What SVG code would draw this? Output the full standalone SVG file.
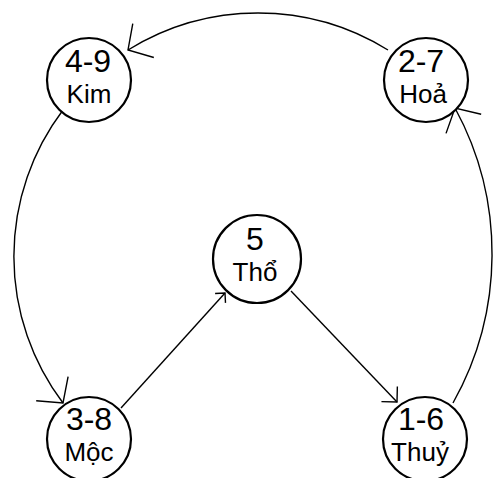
<svg xmlns="http://www.w3.org/2000/svg" width="494" height="478" viewBox="0 0 494 478">
<style>
.node circle{fill:#fff;stroke:#000;stroke-width:2.2}
.num{font-family:"Liberation Sans",Arial,sans-serif;font-size:32px;text-anchor:middle;fill:#000}
.name{font-family:"Liberation Sans",Arial,sans-serif;font-size:26px;text-anchor:middle;fill:#000}
.edge{fill:none;stroke:#000;stroke-width:1.4}
</style>
<defs>
<marker id="big" markerUnits="userSpaceOnUse" viewBox="-30 -30 60 60" markerWidth="60" markerHeight="60" refX="0" refY="0" orient="auto" overflow="visible">
<path d="M-18,-20 L0,0 L-18,20" fill="none" stroke="#000" stroke-width="1.4"/>
</marker>
<marker id="mid" markerUnits="userSpaceOnUse" viewBox="-30 -30 60 60" markerWidth="60" markerHeight="60" refX="0" refY="0" orient="auto" overflow="visible">
<path d="M-11,-11 L0,0 L-11,11" fill="none" stroke="#000" stroke-width="1.4"/>
</marker>
<marker id="small" markerUnits="userSpaceOnUse" viewBox="-30 -30 60 60" markerWidth="60" markerHeight="60" refX="0" refY="0" orient="auto" overflow="visible">
<path d="M-7,-7 L0,0 L-7,7" fill="none" stroke="#000" stroke-width="1.4"/>
</marker>
</defs>
<g id="connectors">
<path class="edge" d="M388,50 A247,247 0 0 0 128,50" marker-end="url(#big)"/>
<path class="edge" d="M63,110 A243,243 0 0 0 63,403" marker-end="url(#big)"/>
<path class="edge" d="M453,403 A305,305 0 0 0 455,108" marker-end="url(#big)"/>
<path class="edge" d="M121,408 L225,293" marker-end="url(#small)"/>
<path class="edge" d="M291,291 L397,402" marker-end="url(#mid)"/>
</g>
<g id="kim" class="node">
<circle cx="89" cy="80" r="42"/>
<text class="num" x="88" y="72">4-9</text>
<text class="name" x="89" y="103">Kim</text>
</g>
<g id="hoa" class="node">
<circle cx="426" cy="80" r="42"/>
<text class="num" x="421" y="72">2-7</text>
<text class="name" x="423" y="103">Hoả</text>
</g>
<g id="tho" class="node">
<circle cx="257" cy="259" r="44"/>
<text class="num" x="255" y="250">5</text>
<text class="name" x="255" y="281">Thổ</text>
</g>
<g id="moc" class="node">
<circle cx="89" cy="439" r="42"/>
<text class="num" x="89" y="430">3-8</text>
<text class="name" x="89" y="461">Mộc</text>
</g>
<g id="thuy" class="node">
<circle cx="425" cy="439" r="42"/>
<text class="num" x="421" y="430">1-6</text>
<text class="name" x="420" y="461">Thuỷ</text>
</g>
</svg>
